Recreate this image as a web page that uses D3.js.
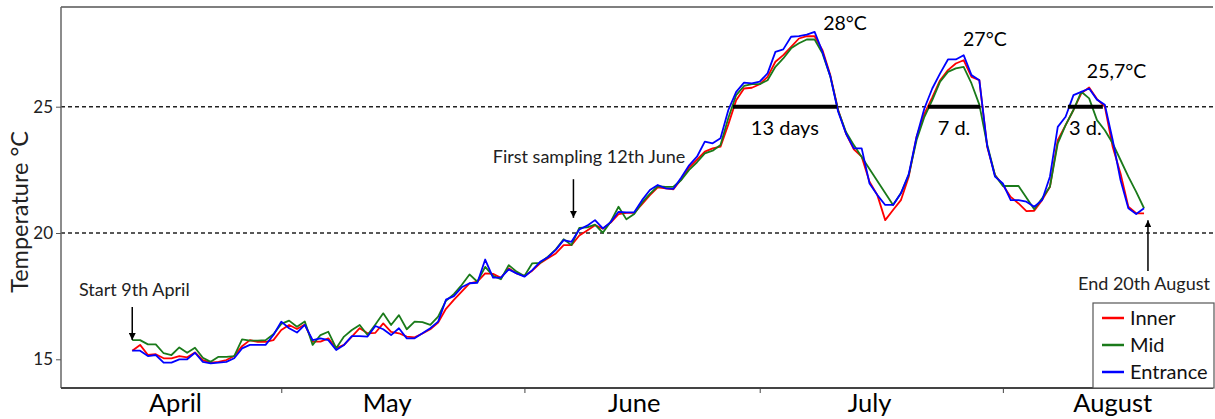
<!DOCTYPE html>
<html><head><meta charset="utf-8">
<script src="https://cdn.jsdelivr.net/npm/d3@7"></script>
<style>
html,body{margin:0;padding:0;background:#fff;}
svg{display:block;font-family:Lato,"Open Sans",sans-serif;}
</style></head>
<body><svg id="c" width="1215" height="419"></svg>
<script>
// ---- data ----
const startDate = Date.UTC(2019, 3, 12); // first daily reading
const seriesNames = ["Inner", "Mid", "Entrance"];
const seriesColors = ["#ff0000", "#1a7a1a", "#0000ff"];
const inner = [15.34,15.57,15.17,15.20,15.04,15.04,15.13,15.08,15.27,14.97,14.87,14.90,14.97,15.13,15.52,15.76,15.69,15.69,15.76,16.16,16.36,16.20,16.38,15.70,15.70,15.83,15.44,15.57,15.90,16.23,16.03,16.05,16.42,16.09,16.03,15.90,15.87,16.02,16.19,16.45,17.00,17.35,17.68,18.01,18.07,18.40,18.38,18.23,18.60,18.40,18.30,18.51,18.80,19.00,19.19,19.52,19.52,19.90,20.10,20.31,20.17,20.41,20.75,20.80,20.80,21.14,21.50,21.81,21.77,21.73,22.13,22.59,22.90,23.22,23.35,23.42,24.30,25.26,25.72,25.75,25.89,26.18,26.78,27.04,27.37,27.70,27.79,27.79,27.24,26.25,24.87,23.94,23.31,23.02,22.03,21.50,20.51,20.91,21.30,22.23,23.81,24.73,25.37,26.05,26.45,26.71,26.84,26.18,26.05,23.41,22.29,21.90,21.43,21.17,20.87,20.88,21.30,21.83,23.68,24.27,24.87,25.53,25.76,25.30,25.00,23.41,22.36,21.04,20.78,20.78];
const mid = [15.76,15.76,15.59,15.59,15.24,15.17,15.47,15.26,15.46,15.06,14.90,15.10,15.10,15.13,15.79,15.74,15.74,15.76,15.99,16.40,16.53,16.29,16.50,15.57,15.96,16.09,15.44,15.90,16.16,16.36,15.96,16.38,16.82,16.36,16.75,16.19,16.49,16.47,16.36,16.69,17.32,17.58,17.94,18.36,18.07,18.66,18.30,18.17,18.73,18.47,18.30,18.80,18.82,19.06,19.35,19.75,19.52,20.20,20.22,20.33,20.01,20.45,21.04,20.54,20.75,21.20,21.55,21.85,21.83,21.83,22.10,22.50,22.80,23.15,23.26,23.48,24.55,25.46,25.82,25.89,25.89,26.05,26.58,26.91,27.31,27.51,27.66,27.66,27.11,26.20,24.85,24.00,23.48,null,null,null,null,21.11,21.57,22.29,23.68,24.60,25.26,25.99,26.38,26.52,26.58,25.92,25.08,23.50,22.29,21.86,21.86,21.86,null,20.94,21.37,21.83,23.55,24.27,24.87,25.59,25.33,24.47,24.07,23.55,22.89,22.23,21.63,20.98];
const entrance = [15.34,15.34,15.13,15.17,14.87,14.87,15.00,15.00,15.26,14.90,14.84,14.87,14.90,15.04,15.43,15.57,15.57,15.57,15.96,16.49,16.23,16.06,16.36,15.76,15.83,15.76,15.37,15.57,15.92,15.92,15.90,16.32,16.19,15.96,16.23,15.83,15.83,16.03,16.23,16.49,17.36,17.50,17.85,18.01,18.03,18.95,18.23,18.23,18.56,18.40,18.27,18.53,18.86,19.04,19.33,19.72,19.65,20.14,20.29,20.51,20.18,20.43,20.84,20.82,20.82,21.30,21.70,21.90,21.77,21.75,22.20,22.68,23.02,23.62,23.55,23.75,24.87,25.59,25.95,25.92,25.99,26.32,27.17,27.27,27.77,27.79,27.85,27.96,27.17,26.20,24.80,23.94,23.35,23.35,21.96,21.50,21.11,21.11,21.57,22.33,23.81,24.94,25.72,26.32,26.87,26.87,27.04,26.25,26.05,23.45,22.23,21.96,21.30,21.30,21.24,21.04,21.30,22.23,24.20,24.60,25.46,25.59,25.72,25.28,25.08,23.68,22.10,20.98,20.75,20.98];
const yTicks = [15, 20, 25];
const thresholds = [20, 25];
const monthTicks = [Date.UTC(2019,4,1), Date.UTC(2019,5,1), Date.UTC(2019,6,1), Date.UTC(2019,7,1)];
const monthLabels = ["April", "May", "June", "July", "August"];
const monthLabelDates = [Date.UTC(2019,3,17,12), Date.UTC(2019,4,14,12), Date.UTC(2019,5,15), Date.UTC(2019,6,15), Date.UTC(2019,7,15)];
// periods above 25 °C: [start, end, label]
const hotPeriods = [[Date.UTC(2019,5,27,14), Date.UTC(2019,6,10,20), "13 days"],
                    [Date.UTC(2019,6,22,11), Date.UTC(2019,6,29,2), "7 d."],
                    [Date.UTC(2019,7,9,7), Date.UTC(2019,7,13,18), "3 d."]];
const peakLabels = [[Date.UTC(2019,6,11,21), "28°C"], [Date.UTC(2019,6,29,17), "27°C"], [Date.UTC(2019,7,15,12), "25,7°C"]];

// ---- layout ----
const svg = d3.select("#c");
const L = 61, R = 1213, T = 7, B = 388;
const x = d3.scaleUtc().domain([Date.UTC(2019,3,2,22), Date.UTC(2019,7,27,19)]).range([L, R]);
const y = d3.scaleLinear().domain([13.864, 28.947]).range([B, T]);
const dayMs = 86400000;
const dateOf = i => new Date(startDate + i * dayMs);

// threshold dashed lines
svg.selectAll(".thr").data(thresholds).join("line")
  .attr("x1", L).attr("x2", R).attr("y1", d => y(d)).attr("y2", d => y(d))
  .attr("stroke", "#222").attr("stroke-width", 1.4).attr("stroke-dasharray", "4,3");

// series lines
const line = d3.line().x(d => x(d.date)).y(d => y(d.v));
[inner, mid, entrance].forEach((vals, k) => {
  const pts = vals.map((v, i) => ({date: dateOf(i), v})).filter(d => d.v != null);
  svg.append("path").datum(pts).attr("d", line)
    .attr("fill", "none").attr("stroke", seriesColors[k]).attr("stroke-width", 1.8)
    .attr("stroke-linejoin", "round");
});

// hot periods bars
svg.selectAll(".hp").data(hotPeriods).join("line")
  .attr("x1", d => x(d[0])).attr("x2", d => x(d[1])).attr("y1", y(25)).attr("y2", y(25))
  .attr("stroke", "#000").attr("stroke-width", 4);
svg.selectAll(".hpt").data(hotPeriods).join("text")
  .attr("x", d => (x(d[0]) + x(d[1])) / 2)
  .attr("y", y(25) + 28).attr("text-anchor", "middle")
  .attr("font-size", 20).attr("fill", "#000").text(d => d[2]);
svg.selectAll(".pk").data(peakLabels).join("text")
  .attr("x", d => x(d[0])).attr("y", (d, i) => [30, 46, 78][i])
  .attr("text-anchor", "middle").attr("font-size", 19.5).attr("fill", "#000").text(d => d[1]);

// frame
svg.append("line").attr("x1", L).attr("x2", R).attr("y1", T).attr("y2", T).attr("stroke", "#555").attr("stroke-width", 1.5);
svg.append("line").attr("x1", L).attr("x2", L).attr("y1", T).attr("y2", B).attr("stroke", "#666").attr("stroke-width", 1.5);

// y axis
const ya = svg.append("g").attr("transform", `translate(${L},0)`)
  .call(d3.axisLeft(y).tickValues(yTicks).tickSize(5).tickPadding(3).tickFormat(d3.format("d")));
ya.select(".domain").remove();
ya.selectAll("line").attr("stroke", "#555");
ya.selectAll("text").attr("font-size", 17).attr("fill", "#222").attr("font-family", "Lato");

// x axis
const xa = svg.append("g").attr("transform", `translate(0,${B})`)
  .call(d3.axisBottom(x).tickValues(monthTicks).tickSize(5).tickFormat(""));
xa.select(".domain").attr("stroke", "#444").attr("stroke-width", 2).attr("d", `M${L},0H${R}`);
xa.selectAll(".tick line").attr("stroke", "#444");
svg.selectAll(".ml").data(monthLabels).join("text")
  .attr("x", (d, i) => x(monthLabelDates[i])).attr("y", 412)
  .attr("text-anchor", "middle").attr("font-size", 25.5).attr("fill", "#000").text(d => d);

// y title
svg.append("text").attr("transform", "translate(28,212) rotate(-90)")
  .attr("text-anchor", "middle").attr("font-size", 23.5).attr("fill", "#222").text("Temperature °C");

// annotations with arrows
svg.append("defs").append("marker").attr("id", "ah").attr("viewBox", "0 0 10 10")
  .attr("refX", 10).attr("refY", 5).attr("markerWidth", 7).attr("markerHeight", 7)
  .attr("markerUnits", "userSpaceOnUse").attr("orient", "auto")
  .append("path").attr("d", "M0,0L10,5L0,10Z").attr("fill", "#000");
const annos = [
  {date: Date.UTC(2019,3,12), from: 17.07, to: 15.76, text: "Start 9th April", tx: 79, ty: 296, anchor: "start"},
  {date: Date.UTC(2019,5,7,6), from: 22.13, to: 20.6, text: "First sampling 12th June", tx: 589, ty: 163, anchor: "middle"},
  {date: Date.UTC(2019,7,19,12), from: 18.5, to: 20.5, text: "End 20th August", tx: 1144, ty: 290, anchor: "middle"}
];
annos.forEach(a => {
  svg.append("line").attr("x1", x(a.date)).attr("x2", x(a.date)).attr("y1", y(a.from)).attr("y2", y(a.to))
    .attr("stroke", "#000").attr("stroke-width", 1.5).attr("marker-end", "url(#ah)");
  svg.append("text").attr("x", a.tx).attr("y", a.ty).attr("text-anchor", a.anchor)
    .attr("font-size", 18).attr("fill", "#222").text(a.text);
});

// legend
const lg = svg.append("g");
lg.append("rect").attr("x", 1093).attr("y", 303).attr("width", 121).attr("height", 85)
  .attr("fill", "#fff").attr("stroke", "#555").attr("stroke-width", 1.2);
seriesNames.forEach((n, k) => {
  const yy = 318 + k * 27;
  lg.append("line").attr("x1", 1102).attr("x2", 1124).attr("y1", yy).attr("y2", yy)
    .attr("stroke", seriesColors[k]).attr("stroke-width", 2.5);
  lg.append("text").attr("x", 1130).attr("y", yy + 7).attr("font-size", 20).attr("fill", "#111").text(n);
});
</script></body></html>
